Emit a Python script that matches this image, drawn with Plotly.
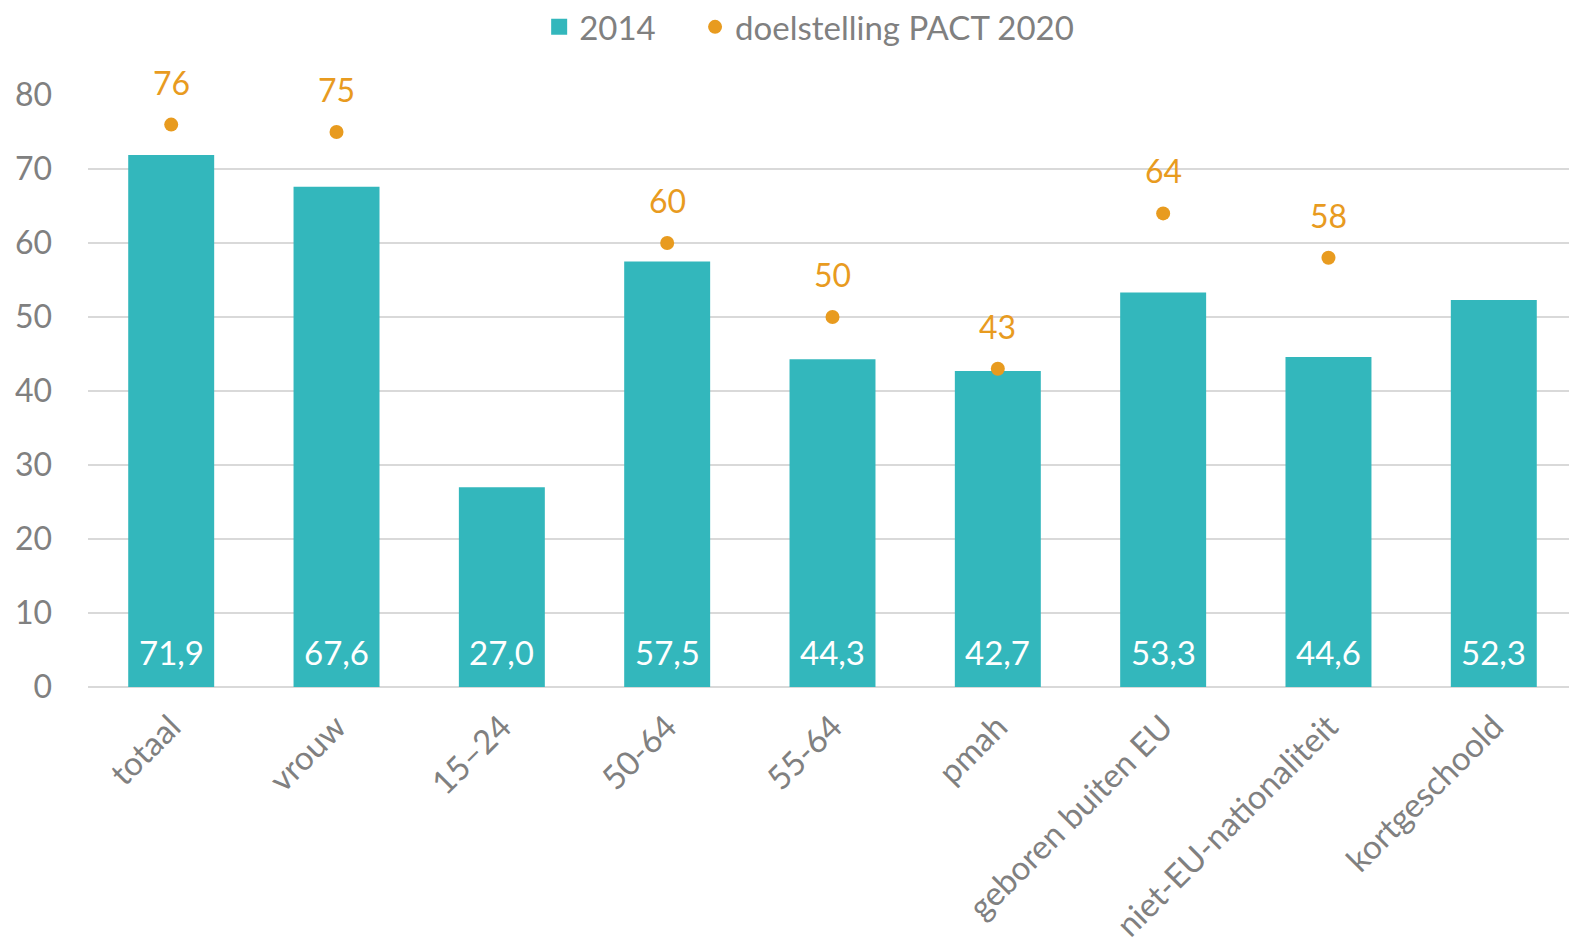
import plotly.graph_objects as go

categories = ["totaal", "vrouw", "15–24", "50-64", "55-64", "pmah",
              "geboren buiten EU", "niet-EU-nationaliteit", "kortgeschoold"]
values_2014 = [71.9, 67.6, 27.0, 57.5, 44.3, 42.7, 53.3, 44.6, 52.3]
target_2020 = [76, 75, None, 60, 50, 43, 64, 58, None]
tick_vals = [0, 10, 20, 30, 40, 50, 60, 70, 80]

BAR = "#33B7BC"
DOT = "#E89B1F"
GREY = "#808080"
FONT = "Lato"

# page body has an 8px default margin
W, H = 1569, 944
mt, mb, ml, mr = 87, 265, 80, 0

fig = go.Figure()
fig.add_trace(go.Bar(x=categories, y=values_2014, name="2014", showlegend=False,
                     marker=dict(color=BAR, line=dict(width=0))))
# legend entry for the bars (larger square symbol)
fig.add_trace(go.Scatter(x=[None], y=[None], name="2014", mode="markers",
                         marker=dict(color=BAR, symbol="square", size=22),
                         legend="legend"))
fig.add_trace(go.Scatter(x=categories, y=target_2020, name="doelstelling PACT 2020",
                         mode="markers", marker=dict(color=DOT, size=14),
                         legend="legend2"))

for c, v in zip(categories, values_2014):
    fig.add_annotation(x=c, y=0, text=f"{v:.1f}".replace(".", ","), showarrow=False,
                       yanchor="bottom", yshift=13, font=dict(color="white", size=33, family=FONT))
for c, t in zip(categories, target_2020):
    if t is not None:
        fig.add_annotation(x=c, y=t, text=str(t), showarrow=False,
                           yanchor="bottom", yshift=21, font=dict(color=DOT, size=32, family=FONT))

leg_common = dict(orientation="h", y=1.115, yanchor="middle", xanchor="left",
                  font=dict(size=33, color=GREY), itemsizing="trace",
                  bgcolor="rgba(0,0,0,0)")

fig.update_layout(
    width=W, height=H,
    margin=dict(t=mt, b=mb, l=ml, r=mr, pad=0, autoexpand=False),
    plot_bgcolor="white", paper_bgcolor="white",
    font=dict(family=FONT, color=GREY, size=32),
    bargap=0.48,
    showlegend=True,
    legend=dict(x=0.303, **leg_common),
    legend2=dict(x=0.4077, **leg_common),
    xaxis=dict(tickangle=-45, showgrid=False, showline=False, ticks="", automargin=False,
               tickfont=dict(size=33, color=GREY), ticklabelstandoff=13),
    yaxis=dict(range=[0, 80], tickvals=tick_vals, showgrid=True, gridcolor="#D9D9D9",
               gridwidth=1.5, zeroline=True, zerolinecolor="#D9D9D9", zerolinewidth=1.5,
               automargin=False,
               tickfont=dict(size=32, color=GREY), ticklabelstandoff=35),
)

fig.write_html("out.html")
